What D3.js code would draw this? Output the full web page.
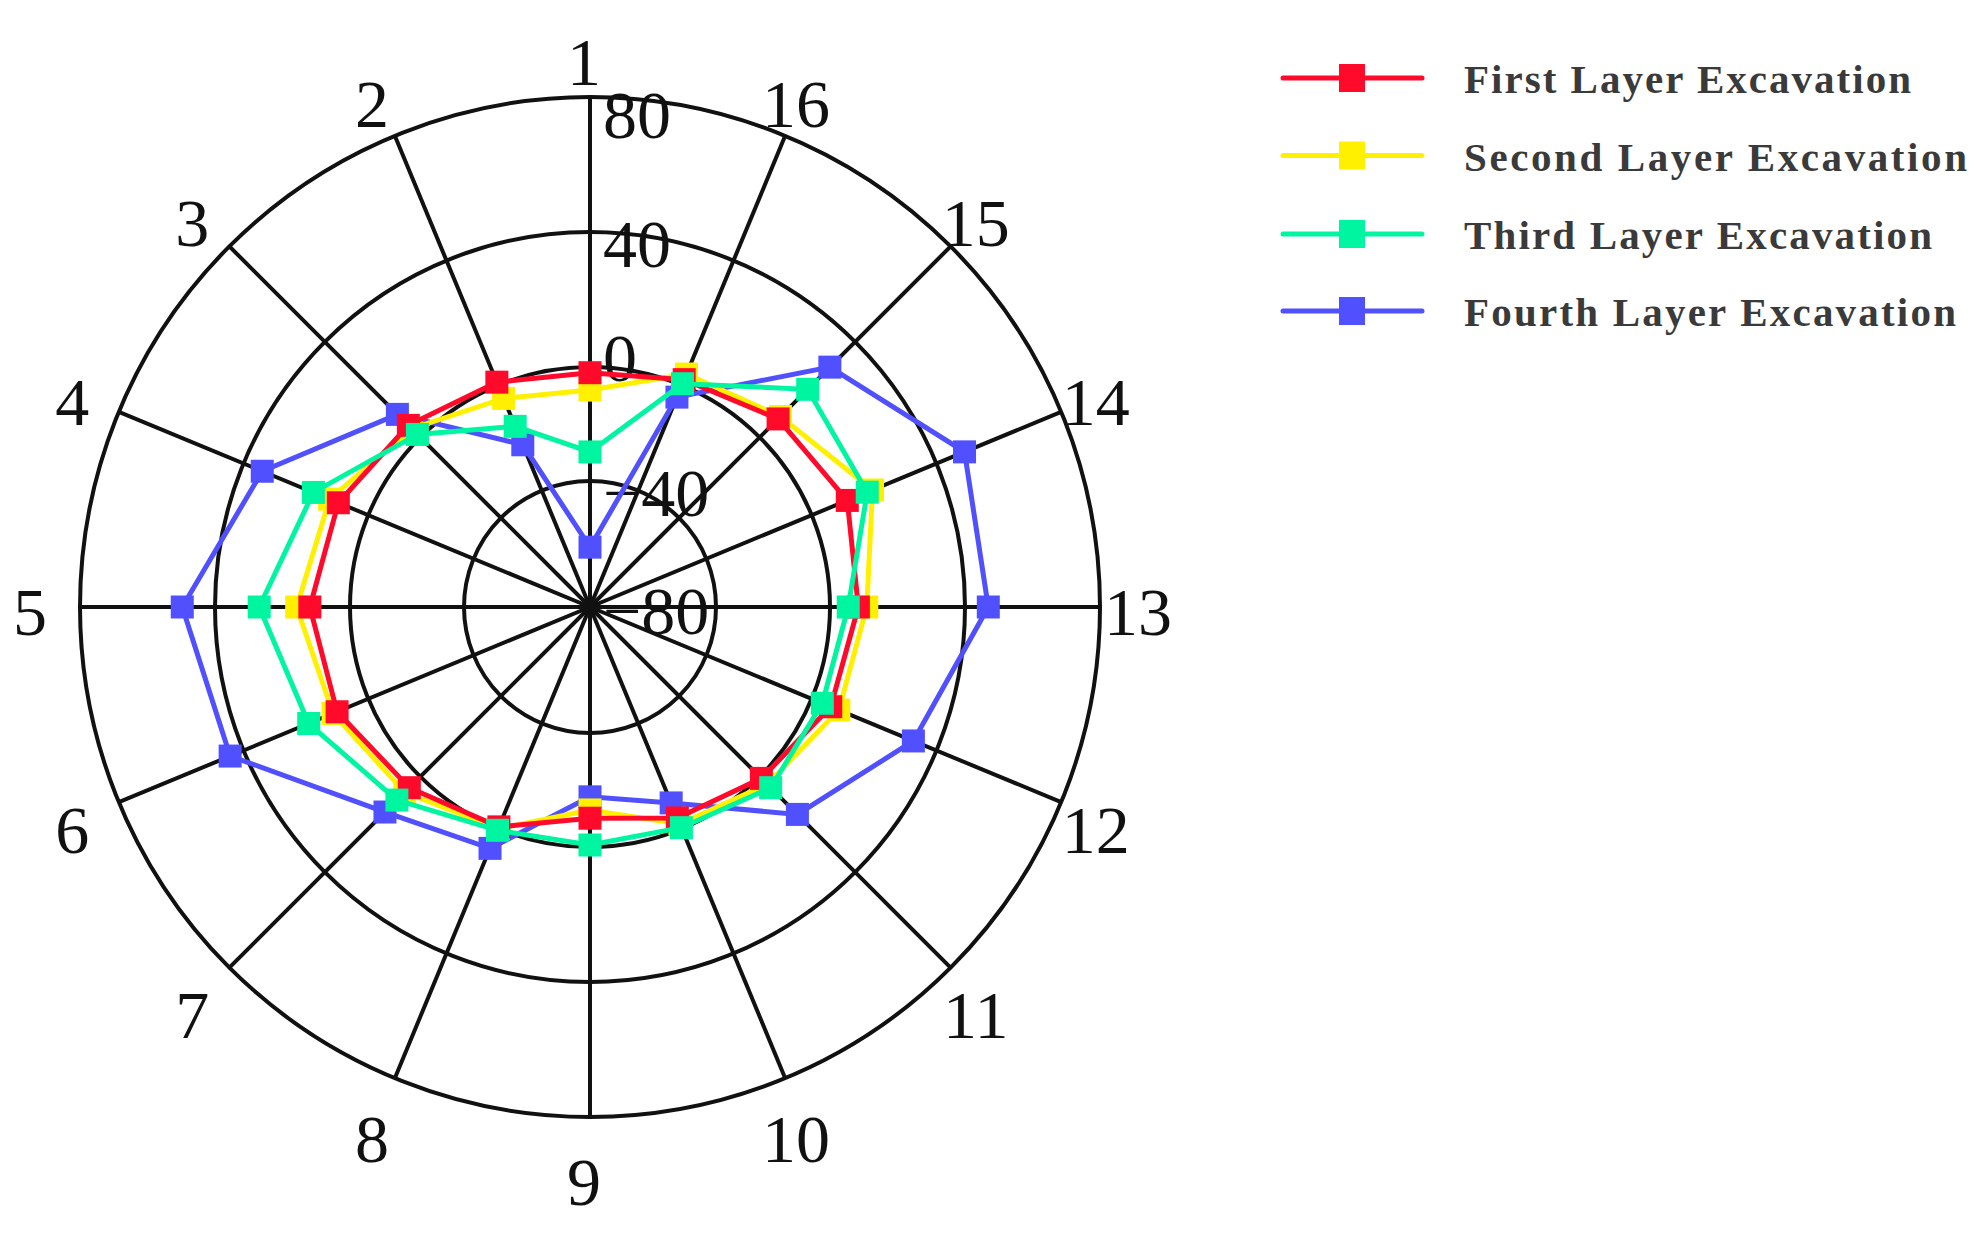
<!DOCTYPE html>
<html>
<head>
<meta charset="utf-8">
<script src="https://cdn.jsdelivr.net/npm/d3@7"></script>
<style>
  html, body { margin: 0; padding: 0; background: #fff; }
  svg { display: block; }
</style>
</head>
<body>
<div id="chart"></div>
<script>
// ---- data ----
const categories = ["1","2","3","4","5","6","7","8","9","10","11","12","13","14","15","16"];
const radialTicks = [-80, -40, 0, 40, 80];
const tickLabels = ["\u221280", "\u221240", "0", "40", "80"];
const seriesNames = ["First Layer Excavation", "Second Layer Excavation", "Third Layer Excavation", "Fourth Layer Excavation"];
const seriesColors = ["#ff0a2a", "#fff000", "#00f5a0", "#5050ff"];
const firstLayer  = [-2, 1, 5.0, 9.6, 11.9, 10.0, 4.6, -0.7, -10.1, -4.1, 0.7, 6.1, 8.4, 11.4, 7.7, 1.8];
const secondLayer = [-8.1, -5.0, 3.6, 12.4, 15.8, 11.3, 6.5, 0, -13, -1.8, 3.2, 8.7, 10.9, 19.5, 8.7, 3.6];
const thirdLayer  = [-29.8, -15.6, 1.2, 17.6, 26.9, 19.1, 9.8, 0.5, -0.7, -0.4, 4.6, 3.4, 5.4, 17.8, 20.1, 0.5];
const fourthLayer = [-61, -22.6, 9.6, 34.0, 49.7, 44.3, 14.8, 6.3, -17.6, -9.8, 15.8, 32.6, 46.9, 49.0, 29.4, -4.5];
const seriesValues = [firstLayer, secondLayer, thirdLayer, fourthLayer];

// ---- layout ----
const W = 1982, H = 1235;
const cx = 590, cy = 607;
const outerR = 510;
const tickLabelDy = [4, 12, -9, 12, 18];   // vertical nudge of each radial tick label
const SERIF = "'Liberation Serif', 'Times New Roman', Times, serif";

const svg = d3.select("#chart").append("svg")
  .attr("width", W).attr("height", H)
  .attr("viewBox", `0 0 ${W} ${H}`);
svg.append("rect").attr("width", W).attr("height", H).attr("fill", "#fff");

const r = d3.scaleLinear().domain(radialTicks).range([0, 126, 240, 375, outerR]);
const angle = d3.scalePoint().domain(categories).range([0, 2 * Math.PI * (15 / 16)]);
// angle measured counter-clockwise from top
const px = (a, rad) => cx - rad * Math.sin(a);
const py = (a, rad) => cy - rad * Math.cos(a);

const g = svg.append("g");

// grid circles
g.selectAll("circle.grid").data(radialTicks.filter(t => t > -80)).enter()
  .append("circle").attr("class", "grid")
  .attr("cx", cx).attr("cy", cy).attr("r", d => r(d))
  .attr("fill", "none").attr("stroke", "#111").attr("stroke-width", 4);

// spokes
g.selectAll("line.spoke").data(categories).enter()
  .append("line").attr("class", "spoke")
  .attr("x1", cx).attr("y1", cy)
  .attr("x2", d => px(angle(d), outerR)).attr("y2", d => py(angle(d), outerR))
  .attr("stroke", "#111").attr("stroke-width", 4);

// category labels
g.selectAll("text.cat").data(categories).enter()
  .append("text").attr("class", "cat")
  .attr("x", d => cx - 6 - 554 * Math.sin(angle(d)))
  .attr("y", d => cy + 5 - 560 * Math.cos(angle(d)) + 10 * Math.abs(Math.cos(angle(d))))
  .attr("text-anchor", "middle").attr("dominant-baseline", "central")
  .attr("font-family", SERIF)
  .attr("font-size", 68).attr("fill", "#111")
  .text(d => d);

// radial tick labels
g.selectAll("text.tick").data(radialTicks).enter()
  .append("text").attr("class", "tick")
  .attr("x", cx + 13)
  .attr("y", (d, i) => cy - r(d) + tickLabelDy[i])
  .attr("text-anchor", "start").attr("dominant-baseline", "central")
  .attr("font-family", SERIF)
  .attr("font-size", 68).attr("fill", "#111")
  .text((d, i) => tickLabels[i]);

// series
const line = d3.lineRadial()
  .angle(d => -angle(d.cat))
  .radius(d => r(d.v))
  .curve(d3.curveLinearClosed);

const drawOrder = [3, 1, 0, 2];
const ms = 23;
drawOrder.forEach(si => {
  const pts = categories.map((c, i) => ({ cat: c, v: seriesValues[si][i] }));
  const sg = svg.append("g").attr("transform", `translate(${cx},${cy})`);
  sg.append("path").attr("d", line(pts))
    .attr("fill", "none").attr("stroke", seriesColors[si]).attr("stroke-width", 5)
    .attr("stroke-linejoin", "miter");
  sg.selectAll("rect").data(pts).enter().append("rect")
    .attr("x", d => -r(d.v) * Math.sin(angle(d.cat)) - ms / 2)
    .attr("y", d => -r(d.v) * Math.cos(angle(d.cat)) - ms / 2)
    .attr("width", ms).attr("height", ms)
    .attr("fill", seriesColors[si]);
});

// legend
const legendY = [78, 155.5, 234, 311];
const legendTextW = [447, 503, 468, 492];
const lg = svg.append("g");
seriesNames.forEach((name, i) => {
  lg.append("line").attr("x1", 1283).attr("x2", 1422)
    .attr("y1", legendY[i]).attr("y2", legendY[i])
    .attr("stroke", seriesColors[i]).attr("stroke-width", 5)
    .attr("stroke-linecap", "round");
  lg.append("rect").attr("x", 1352 - 13).attr("y", legendY[i] - 14)
    .attr("width", 26).attr("height", 28).attr("fill", seriesColors[i]);
  lg.append("text").attr("x", 1464).attr("y", legendY[i] + 1)
    .attr("dominant-baseline", "central")
    .attr("font-family", SERIF)
    .attr("font-weight", "bold")
    .attr("font-size", 41).attr("fill", "#3a3a3a")
    .attr("textLength", legendTextW[i]).attr("lengthAdjust", "spacing")
    .text(name);
});
</script>
</body>
</html>
